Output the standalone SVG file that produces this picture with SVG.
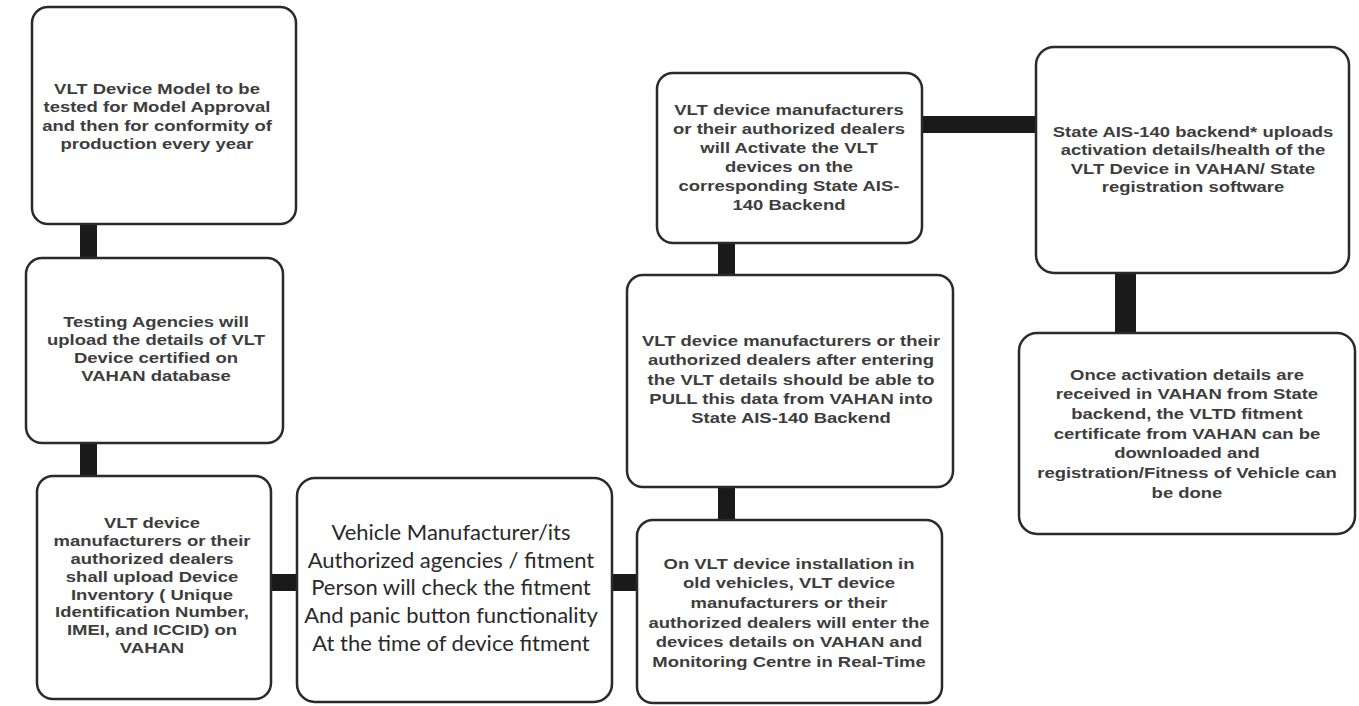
<svg xmlns="http://www.w3.org/2000/svg" width="1359" height="706" viewBox="0 0 1359 706">
<style>
.box{fill:#fff;stroke:#2a2a2a;stroke-width:2.5}
.t{font-family:"Liberation Sans",Arial,sans-serif;font-weight:bold;font-size:14px;fill:#3d3d3d;text-anchor:middle}
.c{font-family:Lato,"Open Sans",sans-serif;font-size:22px;fill:#2a2a2a;text-anchor:middle}
.conn{fill:#1a1a1a}
</style>
<rect width="1359" height="706" fill="#fff"/>
<g id="connectors">
<rect class="conn" x="80" y="224" width="17" height="35"/>
<rect class="conn" x="80" y="442" width="17" height="35"/>
<rect class="conn" x="271" y="574" width="27" height="17"/>
<rect class="conn" x="611" y="574" width="27" height="17"/>
<rect class="conn" x="718" y="486" width="17" height="35"/>
<rect class="conn" x="718" y="242" width="17" height="34"/>
<rect class="conn" x="922" y="116" width="115" height="17"/>
<rect class="conn" x="1115" y="272" width="21" height="62"/>
</g>
<g id="n1">
<rect class="box" x="32" y="7" width="264" height="217" rx="16"/>
<g transform="translate(157,0) scale(1.32,1)">
<text class="t" x="0" y="94">VLT Device Model to be</text>
<text class="t" x="0" y="112.5">tested for Model Approval</text>
<text class="t" x="0" y="131">and then for conformity of</text>
<text class="t" x="0" y="149.5">production every year</text>
</g>
</g>
<g id="n2">
<rect class="box" x="26" y="258" width="257" height="185" rx="16"/>
<g transform="translate(156,0) scale(1.32,1)">
<text class="t" x="0" y="327">Testing Agencies will</text>
<text class="t" x="0" y="345">upload the details of VLT</text>
<text class="t" x="0" y="363">Device  certified on</text>
<text class="t" x="0" y="381">VAHAN database</text>
</g>
</g>
<g id="n3">
<rect class="box" x="37" y="476" width="234" height="223" rx="16"/>
<g transform="translate(152,0) scale(1.32,1)">
<text class="t" x="0" y="528">VLT device</text>
<text class="t" x="0" y="546">manufacturers or their</text>
<text class="t" x="0" y="564">authorized dealers</text>
<text class="t" x="0" y="582">shall upload  Device</text>
<text class="t" x="0" y="600">Inventory ( Unique</text>
<text class="t" x="0" y="617.5">Identification Number,</text>
<text class="t" x="0" y="635.5">IMEI, and ICCID) on</text>
<text class="t" x="0" y="653.5">VAHAN</text>
</g>
</g>
<g id="n4">
<rect class="box" x="297" y="478" width="315" height="224" rx="18"/>
<text class="c" x="451" y="540">Vehicle Manufacturer/its</text>
<text class="c" x="451" y="567.5">Authorized agencies / fitment</text>
<text class="c" x="451" y="595">Person will check the fitment</text>
<text class="c" x="451" y="623">And panic button functionality</text>
<text class="c" x="451" y="651">At the time of device fitment</text>
</g>
<g id="n5">
<rect class="box" x="637" y="520" width="305" height="183" rx="16"/>
<g transform="translate(789,0) scale(1.32,1)">
<text class="t" x="0" y="569">On VLT device  installation in</text>
<text class="t" x="0" y="588.5">old vehicles, VLT device</text>
<text class="t" x="0" y="608">manufacturers or their</text>
<text class="t" x="0" y="628">authorized dealers will enter the</text>
<text class="t" x="0" y="647.5">devices details on VAHAN and</text>
<text class="t" x="0" y="667">Monitoring Centre in Real-Time</text>
</g>
</g>
<g id="n6">
<rect class="box" x="627" y="275" width="326" height="212" rx="16"/>
<g transform="translate(791,0) scale(1.32,1)">
<text class="t" x="0" y="346">VLT device manufacturers or their</text>
<text class="t" x="0" y="365.5">authorized dealers after entering</text>
<text class="t" x="0" y="385">the VLT details should be able to</text>
<text class="t" x="0" y="404">PULL this data from VAHAN into</text>
<text class="t" x="0" y="423">State AIS-140 Backend</text>
</g>
</g>
<g id="n7">
<rect class="box" x="657" y="73" width="265" height="170" rx="16"/>
<g transform="translate(789,0) scale(1.32,1)">
<text class="t" x="0" y="115">VLT device manufacturers</text>
<text class="t" x="0" y="134">or their authorized dealers</text>
<text class="t" x="0" y="153">will Activate the VLT</text>
<text class="t" x="0" y="172">devices on the</text>
<text class="t" x="0" y="191">corresponding State AIS-</text>
<text class="t" x="0" y="210">140 Backend</text>
</g>
</g>
<g id="n8">
<rect class="box" x="1036" y="47" width="313" height="226" rx="18"/>
<g transform="translate(1193,0) scale(1.32,1)">
<text class="t" x="0" y="137">State AIS-140 backend* uploads</text>
<text class="t" x="0" y="155.5">activation details/health of the</text>
<text class="t" x="0" y="174">VLT Device in VAHAN/ State</text>
<text class="t" x="0" y="192">registration software</text>
</g>
</g>
<g id="n9">
<rect class="box" x="1019" y="333" width="336" height="201" rx="18"/>
<g transform="translate(1187,0) scale(1.32,1)">
<text class="t" x="0" y="380">Once activation details are</text>
<text class="t" x="0" y="399.5">received in VAHAN from State</text>
<text class="t" x="0" y="419">backend, the VLTD fitment</text>
<text class="t" x="0" y="439">certificate from VAHAN can be</text>
<text class="t" x="0" y="458.5">downloaded and</text>
<text class="t" x="0" y="478">registration/Fitness of Vehicle can</text>
<text class="t" x="0" y="498">be done</text>
</g>
</g>
</svg>
